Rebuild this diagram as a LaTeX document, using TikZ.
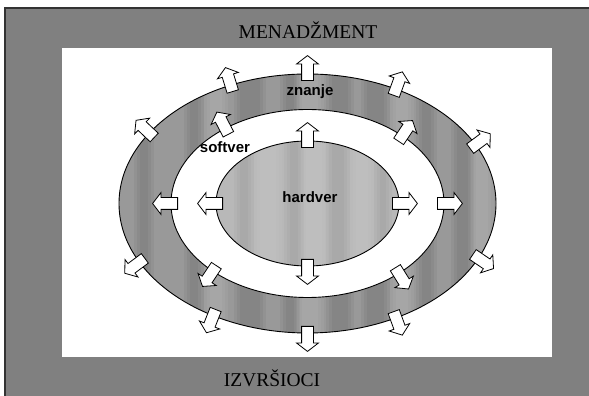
\documentclass[tikz,border=0pt]{standalone}
\usepackage{fontspec}
\setmainfont{Liberation Serif}
\newfontfamily\labelfont{Liberation Sans}
\usetikzlibrary{shapes.arrows,shapes.geometric,calc}

\definecolor{framegray}{gray}{0.5}
\definecolor{frameline}{gray}{0.2}
\definecolor{ringgray}{gray}{0.60}
\definecolor{coregray}{gray}{0.72}

\tikzset{
  flowarrow/.style={single arrow, draw=black, fill=white, line width=0.8pt,
    minimum height=25pt, inner xsep=0pt, inner ysep=5.5pt,
    single arrow head extend=5pt, single arrow tip angle=105, anchor=tail},
  layer/.style={ellipse, draw=black, line width=0.9pt, inner sep=0pt},
  ringlabel/.style={font=\labelfont\bfseries\fontsize{15}{18}\selectfont},
  bandtitle/.style={font=\fontsize{19.5}{22}\selectfont}
}

% a soft vertical streak: three nested translucent bands
\newcommand{\softstreak}[4]{% left, right, colour, opacity per band
  \foreach \k in {0,3,6}{%
    \fill[#3, opacity=#4] ({#1+\k},0) rectangle ({#2-\k},396);%
  }%
}

\begin{document}
\begin{tikzpicture}[x=1pt,y=1pt]
\useasboundingbox (0,0) rectangle (589,396);
\clip (0,0) rectangle (589,396);
\fill[white] (0,0) rectangle (589,396);

% gray frame and white panel
\draw[fill=framegray, draw=frameline, line width=1.5pt] (5,-5) rectangle (600,388);
\fill[white] (62,39) rectangle (552,348);

\coordinate (C) at (307.5,192.5);

% knowledge ring: base tone with soft vertical streaks
\fill[ringgray] (C) ellipse [x radius=188.5pt, y radius=129.5pt];
\begin{scope}
  \clip (C) ellipse [x radius=188.5pt, y radius=129.5pt];
  \foreach \a/\b in {134/154,184/204,234/266,280/300,326/354,361/390,416/437,451/474}{
    \softstreak{\a}{\b}{black}{0.045}
  }
  \foreach \a/\b in {204/228,296/324,390/414,470/494}{
    \softstreak{\a}{\b}{white}{0.05}
  }
\end{scope}
% software band
\fill[white] (C) ellipse [x radius=136.5pt, y radius=94pt];
% hardware core
\fill[coregray] (C) ellipse [x radius=91.5pt, y radius=62.5pt];
\begin{scope}
  \clip (C) ellipse [x radius=91.5pt, y radius=62.5pt];
  \foreach \a/\b in {234/254,284/304,326/350,374/392}{
    \softstreak{\a}{\b}{black}{0.025}
  }
  \foreach \a/\b in {254/282,300/328,350/374}{
    \softstreak{\a}{\b}{white}{0.035}
  }
\end{scope}

% outlines of the three layers
\node[layer, minimum width=377pt, minimum height=259pt] (outer) at (C) {};
\node[layer, minimum width=273pt, minimum height=188pt] (inner) at (C) {};
\node[layer, minimum width=183pt, minimum height=125pt] (core) at (C) {};

% arrows leaving the outer ring
\foreach \t [count=\i] in {90,114,147,-153,-120,-90,-62,-25,27,62} {
  \pgfmathsetmacro\na{atan2(188.5*sin(\t),129.5*cos(\t))}
  \pgfmathsetmacro\px{307.5+188.5*cos(\t)-7*cos(\na)}
  \pgfmathsetmacro\py{192.5+129.5*sin(\t)-7*sin(\na)}
  \node[flowarrow, rotate=\na] (out\i) at (\px,\py) {};
}
% arrows leaving the software band
\foreach \t [count=\i] in {180,0,127,46,-134,-48} {
  \pgfmathsetmacro\na{atan2(136.5*sin(\t),94*cos(\t))}
  \pgfmathsetmacro\px{307.5+136.5*cos(\t)-7*cos(\na)}
  \pgfmathsetmacro\py{192.5+94*sin(\t)-7*sin(\na)}
  \node[flowarrow, rotate=\na] (mid\i) at (\px,\py) {};
}
% arrows leaving the hardware core
\foreach \t [count=\i] in {90,-90,180,0} {
  \pgfmathsetmacro\na{atan2(91.5*sin(\t),62.5*cos(\t))}
  \pgfmathsetmacro\px{307.5+91.5*cos(\t)-7*cos(\na)}
  \pgfmathsetmacro\py{192.5+62.5*sin(\t)-7*sin(\na)}
  \node[flowarrow, rotate=\na] (hw\i) at (\px,\py) {};
}

% labels
\node[ringlabel] (znanje) at (310,304) {znanje};
\node[ringlabel] (softver) at (225,249) {softver};
\node[ringlabel] (hardver) at (310,199) {hardver};
\node[bandtitle] (top) at (308,366) {MENADŽMENT};
\node[bandtitle] (bottom) at (272,18) {IZVRŠIOCI};
\end{tikzpicture}
\end{document}
